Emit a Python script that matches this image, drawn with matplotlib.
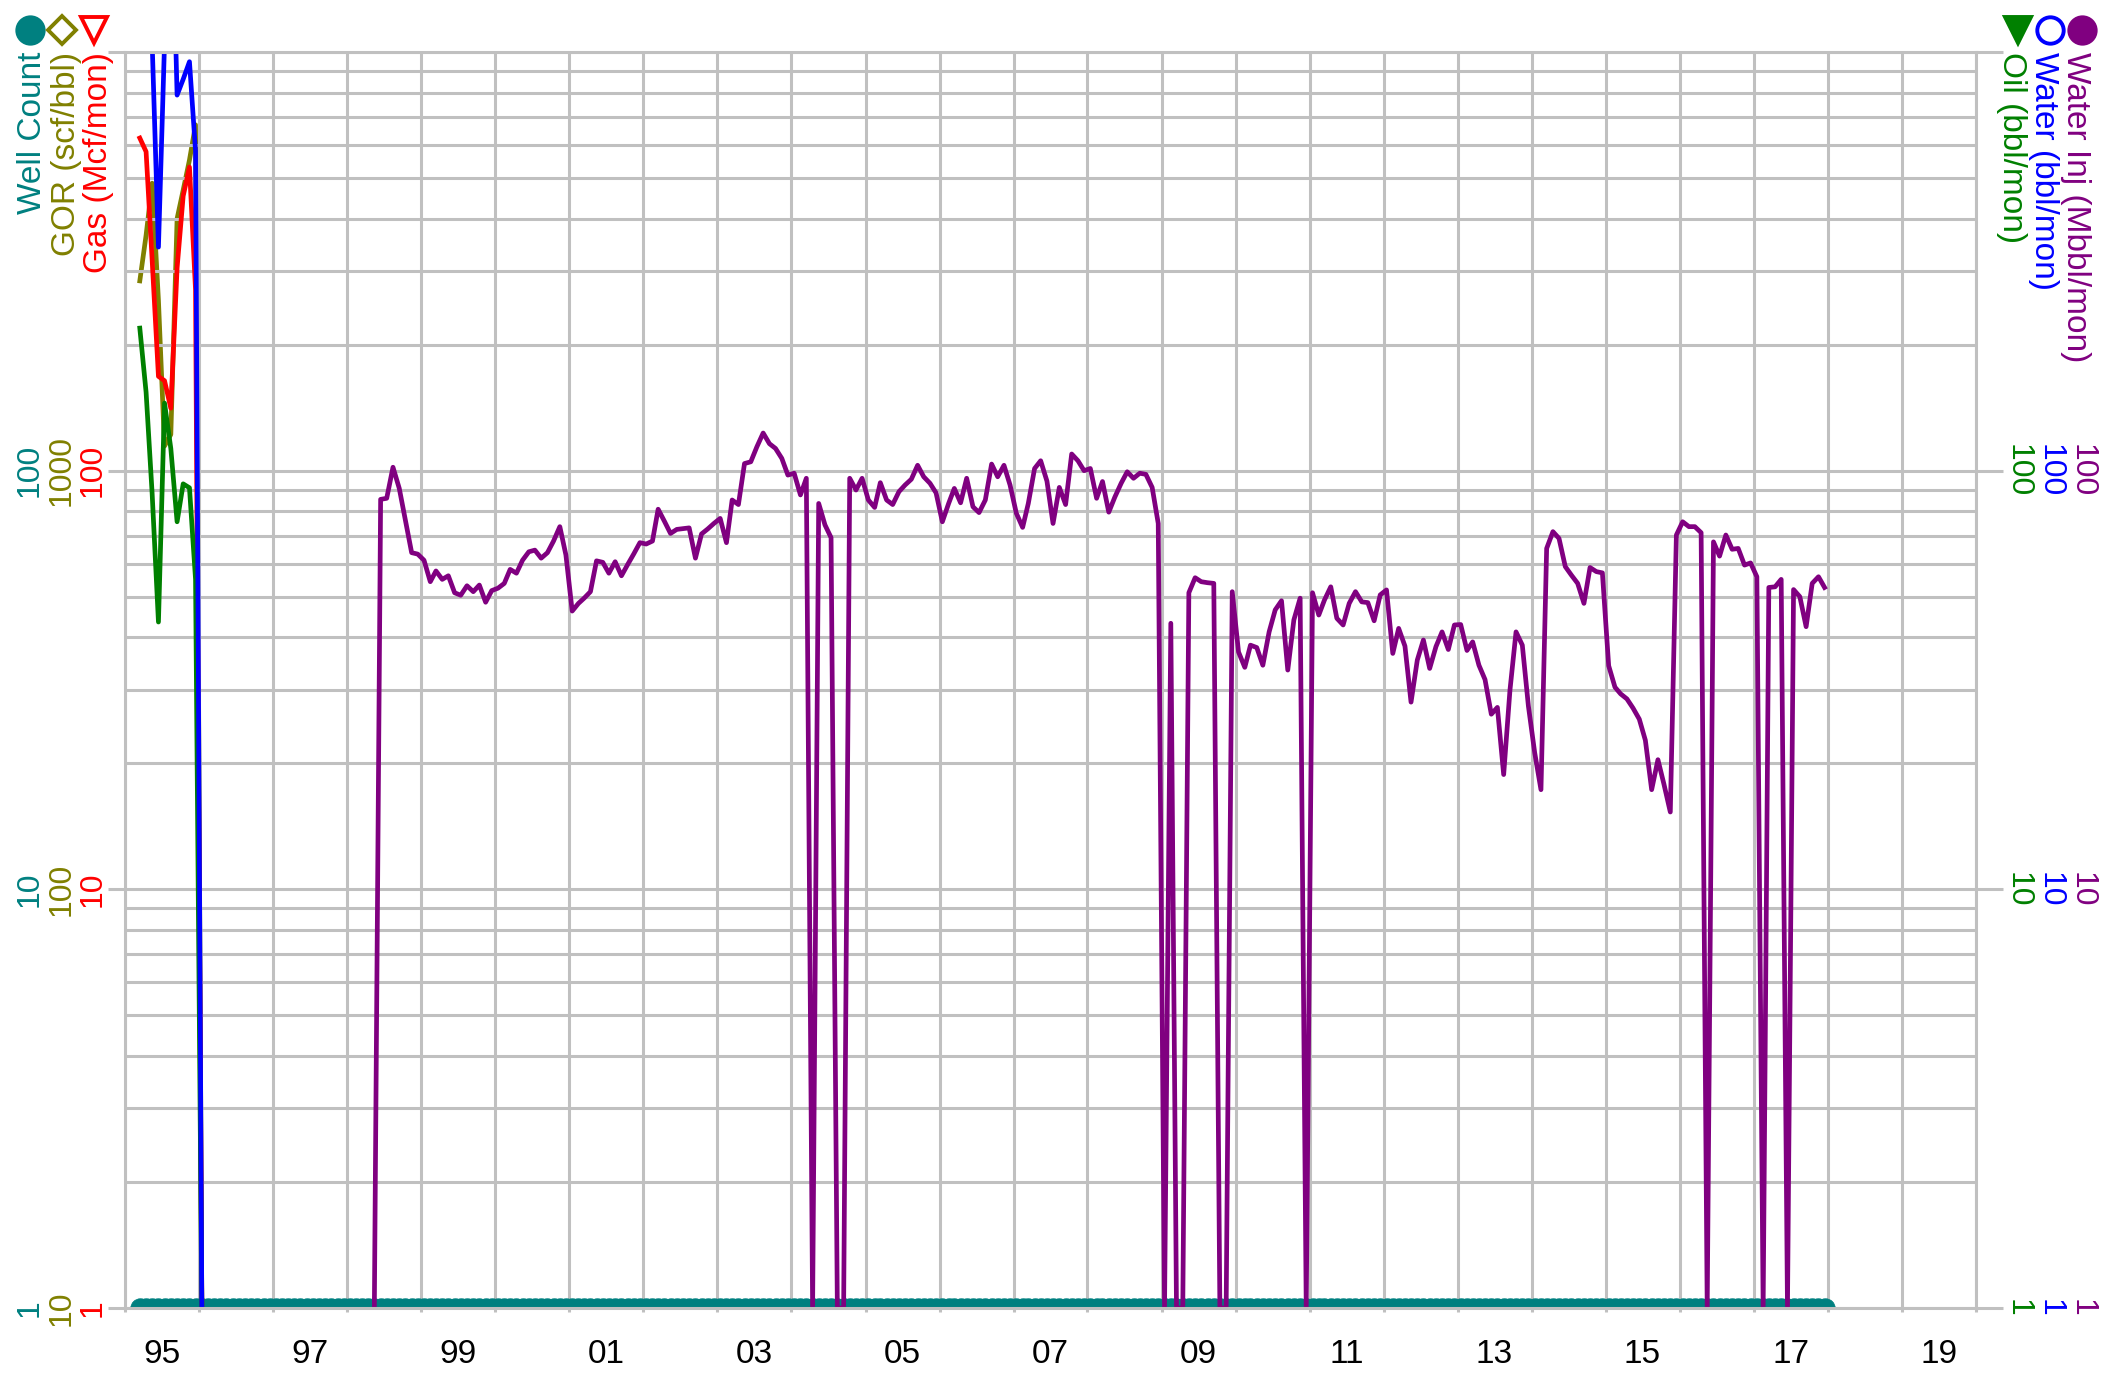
import pandas as pd
import matplotlib
matplotlib.use("Agg")
import matplotlib.pyplot as plt
import matplotlib.dates as mdates
import matplotlib.transforms as mtransforms
from matplotlib.lines import Line2D
from matplotlib.ticker import FixedLocator, FixedFormatter, NullFormatter

plt.rcParams['font.family'] = ['Liberation Sans', 'DejaVu Sans']

# early production, monthly from Mar 1995 to Jan 1996
early_start = '1995-03-01'
gas = [623, 578, 318, 168, 164, 141, 305, 453, 531, 270, 1]
gor = [2840, 3650, 4860, 2550, 1145, 1220, 4000, 4680, 5520, 6700, 10]
oil = [219, 154, 88, 43.5, 145, 113, 75.5, 93, 91, 55, 1]
water = [3000, 3000, 1050, 342, 1050, 3000, 789, 861, 948, 580, 1]

# water injection (Mbbl/mon), monthly from May 1998 to Dec 2017
inj_start = '1998-05-01'
water_inj = [
    1, 85.4, 85.9, 101.9, 90.7, 76.2, 63.7, 63.2, 61.1, 54.3, 57.6, 55.0,
    56.1, 51.1, 50.4, 53.1, 51.4, 53.3, 48.5, 51.7, 52.4, 53.8, 58.1, 56.9,
    61.1, 64.0, 64.6, 61.8, 63.7, 67.9, 73.5, 62.9, 46.2, 48.2, 49.6, 51.4,
    60.9, 60.4, 56.9, 60.6, 56.1, 59.6, 63.3, 67.3, 66.8, 67.9, 80.9, 75.7,
    70.8, 72.4, 72.7, 73.0, 61.8, 70.6, 72.6, 74.8, 76.9, 67.3, 85.1, 83.0,
    104, 105, 114, 123, 116, 113, 107, 97.6, 98.6, 87.5, 95.9, 1,
    83.5, 74.2, 69.2, 1, 1, 95.9, 89.9, 95.9, 85.1, 81.7, 93.6, 85.1,
    83.0, 89.1, 92.4, 95.4, 103, 96.7, 93.3, 88.5, 75.5, 83.5, 90.7, 83.8,
    95.9, 82.0, 79.4, 85.1, 103.7, 96.7, 103, 92.4, 79.1, 73.2, 83.5, 101.2,
    105.6, 94.4, 74.8, 91.2, 83.0, 109.6, 105.6, 100, 101.2, 85.9, 94.2, 79.6,
    86.5, 93.3, 99.4, 95.9, 98.6, 98.0, 91.2, 74.8, 1, 43.2, 1, 1,
    51.1, 55.5, 54.3, 54.0, 53.8, 1, 1, 51.4, 36.9, 33.9, 38.3, 37.8,
    34.3, 41.2, 46.5, 48.9, 33.4, 44.0, 49.6, 1, 51.1, 45.2, 49.1, 52.8,
    44.4, 42.8, 48.2, 51.4, 48.6, 48.4, 43.8, 50.5, 51.9, 36.6, 42.0, 38.1,
    28.0, 35.3, 39.4, 33.7, 38.0, 41.2, 37.4, 42.8, 42.9, 37.2, 39.0, 34.3,
    31.7, 26.2, 27.2, 18.8, 29.9, 41.2, 38.3, 27.4, 21.2, 17.3, 65.2, 71.5,
    68.9, 59.0, 56.3, 53.8, 48.2, 58.7, 57.4, 57.0, 34.2, 30.4, 29.3, 28.5,
    27.1, 25.5, 22.7, 17.3, 20.4, 17.8, 15.3, 70.2, 75.5, 73.5, 73.5, 71.1,
    1, 67.6, 62.5, 70.2, 64.9, 65.2, 59.5, 60.2, 55.8, 1, 52.6, 52.8,
    55.0, 1, 52.0, 50.0, 42.4, 53.8, 55.8, 52.6,
]

# well count, monthly from Mar 1995 to Dec 2017
wells_start = '1995-03-01'
wells_end = '2017-12-01'
wells_value = 1

label_years = [1995, 1997, 1999, 2001, 2003, 2005, 2007, 2009, 2011, 2013, 2015, 2017, 2019]
year_labels = ['95', '97', '99', '01', '03', '05', '07', '09', '11', '13', '15', '17', '19']
tick_values = [1, 10, 100]
gor_tick_values = [10, 100, 1000]

TEAL, OLIVE, RED = '#008080', '#808000', '#ff0000'
GREEN, BLUE, PURPLE = '#008000', '#0000ff', '#800080'
GRID = '#c0c0c0'

W, H = 2112, 1388
def fx(px):
    return px / W
def fy(py):
    return 1 - py / H


def monthly(start, n):
    return pd.date_range(start, periods=n, freq='MS') + pd.Timedelta(days=14)


fig = plt.figure(figsize=(W / 200, H / 200), dpi=200)
ax = fig.add_axes([fx(125), fy(1308), fx(1976) - fx(125), fy(52) - fy(1308)])
ax_gor = ax.twinx()
ax_gor.set_zorder(ax.get_zorder() - 1)
ax.patch.set_visible(False)
ax_gor.patch.set_visible(True)
ax_gor.patch.set_facecolor('white')

for a, lo, hi in ((ax, 1, 1000), (ax_gor, 10, 10000)):
    a.set_yscale('log')
    a.set_ylim(lo, hi)
ax.set_xlim(pd.Timestamp('1995-01-01'), pd.Timestamp('2020-01-01'))

lw = 1.7
early_dates = monthly(early_start, len(gas))
wells_dates = pd.date_range(wells_start, wells_end, freq='MS') + pd.Timedelta(days=14)

ax_gor.plot(early_dates, gor, color=OLIVE, lw=lw)
ax.plot(wells_dates, [wells_value] * len(wells_dates), color=TEAL, lw=lw,
        marker='o', ms=7, mec=TEAL, mew=0.3)
ax.plot(early_dates, gas, color=RED, lw=lw)
ax.plot(early_dates, oil, color=GREEN, lw=lw)
ax.plot(early_dates, water, color=BLUE, lw=lw)
ax.plot(monthly(inj_start, len(water_inj)), water_inj, color=PURPLE, lw=lw)

# grid and ticks
ax.set_axisbelow(True)
ax.xaxis.set_major_locator(mdates.YearLocator())
ax.xaxis.set_major_formatter(NullFormatter())
ax.xaxis.set_minor_locator(FixedLocator(
    [mdates.date2num(pd.Timestamp(f'{y}-07-01')) for y in label_years]))
ax.xaxis.set_minor_formatter(FixedFormatter(year_labels))
ax.grid(True, which='major', axis='x', color=GRID, lw=1.1)
ax.grid(True, which='both', axis='y', color=GRID, lw=1.1)
ax.tick_params(axis='x', which='major', length=1.5, width=1.1, color=GRID)
ax.tick_params(axis='x', which='minor', length=0, pad=11, labelsize=12)
ax.tick_params(axis='y', which='major', left=True, right=False, length=6.1,
               width=1.1, color=GRID, labelleft=False)
ax.tick_params(axis='y', which='minor', length=0, labelleft=False)
ax_gor.tick_params(axis='y', which='major', right=True, length=9.7, width=1.1,
                   color=GRID, labelright=False)
ax_gor.tick_params(axis='y', which='minor', length=0, labelright=False)
for s in ax.spines.values():
    s.set_color(GRID)
    s.set_linewidth(1.1)
for s in ax_gor.spines.values():
    s.set_visible(False)

# tick label columns
left_cols = [(30, TEAL, ax, tick_values), (62, OLIVE, ax_gor, gor_tick_values),
             (93, RED, ax, tick_values)]
right_cols = [(2018, GREEN, ax, tick_values), (2050, BLUE, ax, tick_values),
              (2082, PURPLE, ax, tick_values)]
for cols, rot in ((left_cols, 90), (right_cols, 270)):
    for xpx, color, a, vals in cols:
        tr = mtransforms.blended_transform_factory(fig.transFigure, a.transData)
        for v in vals:
            fig.text(fx(xpx), v, f'{v}', transform=tr, rotation=rot, color=color,
                     ha='center', va='center', fontsize=11.5)

# axis titles
left_titles = [(33, TEAL, 'Well Count'), (66, OLIVE, 'GOR (scf/bbl)'),
               (99, RED, 'Gas (Mcf/mon)')]
right_titles = [(2012, GREEN, 'Oil (bbl/mon)'), (2044, BLUE, 'Water (bbl/mon)'),
                (2076, PURPLE, 'Water Inj (Mbbl/mon)')]
for titles, rot in ((left_titles, 90), (right_titles, 270)):
    for xpx, color, txt in titles:
        fig.text(fx(xpx), fy(52), txt, rotation=rot, color=color,
                 ha='center', va='top', fontsize=12)

# series symbols
symbols = [(30, TEAL, 'o', True), (62, OLIVE, 'D', False), (94, RED, 'v', False),
           (2018, GREEN, 'v', True), (2050, BLUE, 'o', False), (2082, PURPLE, 'o', True)]
for xpx, color, m, filled in symbols:
    size = 9.5 if m != 'D' else 7
    fig.add_artist(Line2D([fx(xpx)], [fy(30)], transform=fig.transFigure, marker=m,
                          ms=size, mec=color, mfc=color if filled else 'white',
                          mew=1.4, ls='none'))

fig.savefig('out.png', dpi=200)
